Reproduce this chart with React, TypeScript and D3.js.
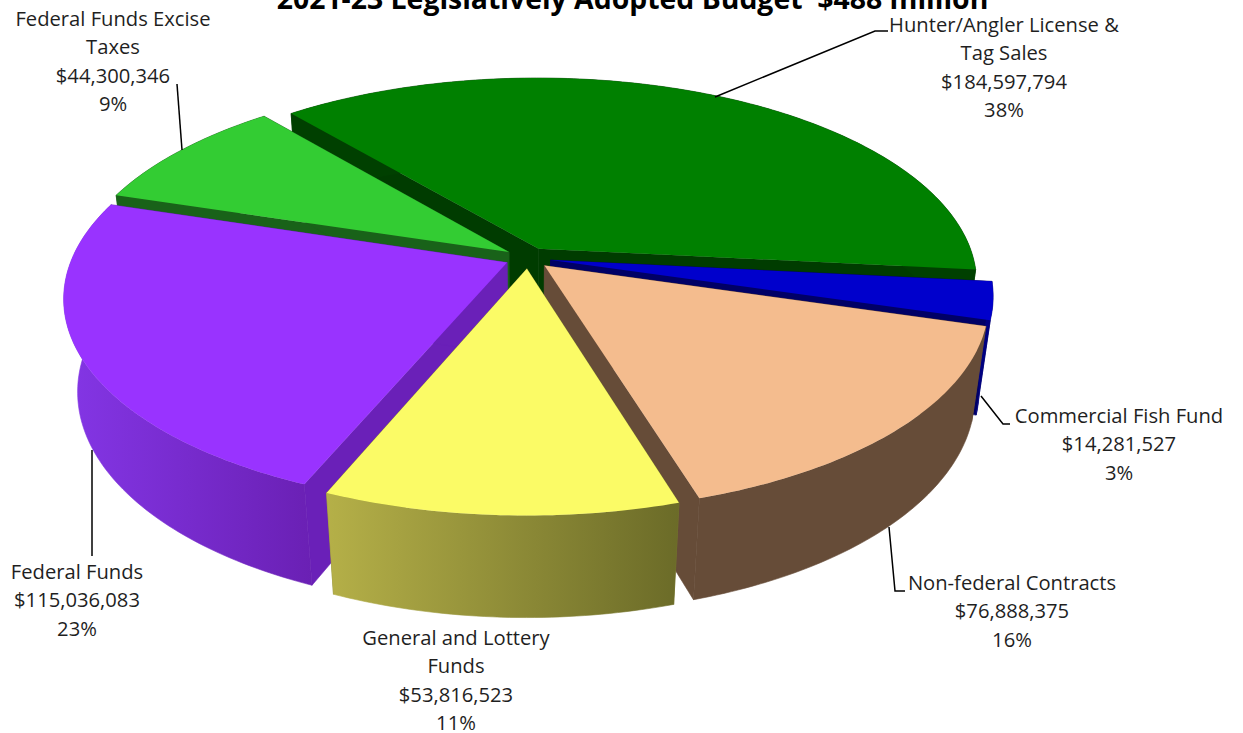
import React from "react";
import * as d3 from "d3";

const WIDTH = 1243;
const HEIGHT = 733;

// values, clockwise from the back
const categories = [
  "Hunter/Angler License & Tag Sales",
  "Commercial Fish Fund",
  "Non-federal Contracts",
  "General and Lottery Funds",
  "Federal Funds",
  "Federal Funds Excise Taxes",
];
const values = [184597794, 14281527, 76888375, 53816523, 115036083, 44300346];
const percents = ["38%", "3%", "16%", "11%", "23%", "9%"];
const labelLines = [
  ["Hunter/Angler License &", "Tag Sales"],
  ["Commercial Fish Fund"],
  ["Non-federal Contracts"],
  ["General and Lottery", "Funds"],
  ["Federal Funds"],
  ["Federal Funds Excise", "Taxes"],
];
const title = "2021-23 Legislatively Adopted Budget  $488 million";

const topColors = ["#008000", "#0000cc", "#f4bc8e", "#fbfb66", "#9933ff", "#33cc33"];
const wallColors = ["#003c00", "#000066", "#664c38", "#7d7d33", "#6a20b8", "#196219"];
const sideLeft = ["#004000", "#000080", "#664c38", "#b5b048", "#8436e6", "#196219"];
const sideRight = ["#004000", "#000080", "#664c38", "#6b6b28", "#6a20b4", "#196219"];

const labelX = [1004, 1119, 1012, 456, 77, 113];
const labelY = [32, 423, 590, 645, 579, 26];
const leaders: [number, number][][] = [
  [[715, 97], [875, 31], [888, 31]],
  [[981, 396], [1003, 424], [1010, 424]],
  [[889, 527], [895, 591], [905, 591]],
  [],
  [[92, 450], [92, 556]],
  [[182, 150], [177, 84]],
];

// back-to-front painting order
const paintOrder = [0, 5, 1, 4, 2, 3];

// pie geometry
const CX = 528;
const CY = 258;
const R = 435;
const EXPLODE = 23;
const TILT = 0.464;
const DEPTH = 95;
const PERSP_Y = 0.166;
const PERSP_Z = 0.03;
const START = (-40 * Math.PI) / 180;

const pie = d3
  .pie<number>()
  .sort(null)
  .startAngle(START)
  .endAngle(START + 2 * Math.PI);
const slices = pie(values);

type Pt = [number, number];

function project(a: number, rad: number, mid: number, z: number): Pt {
  const X = rad * Math.sin(a) + EXPLODE * Math.sin(mid);
  const Y = -(rad * Math.cos(a) + EXPLODE * Math.cos(mid));
  const s = 1 / (1 - (PERSP_Y * Y) / R + PERSP_Z * z);
  return [CX + X * s, CY + (TILT * Y + DEPTH * z) * s];
}

const path = d3.line<Pt>();

function arcPoints(a0: number, a1: number, mid: number, z: number): Pt[] {
  const n = Math.max(4, Math.ceil(Math.abs(a1 - a0) * 60));
  return d3.range(n + 1).map((i) => project(a0 + ((a1 - a0) * i) / n, R, mid, z));
}

function Slice({i}: {i: number}) {
  const {startAngle: a0, endAngle: a1} = slices[i];
  const mid = (a0 + a1) / 2;
  const apexTop = project(0, 0, mid, 0);
  const apexBot = project(0, 0, mid, 1);
  const arcTop = arcPoints(a0, a1, mid, 0);
  const arcBot = arcPoints(a0, a1, mid, 1);

  const wall = (a: number) =>
    path([apexTop, project(a, R, mid, 0), project(a, R, mid, 1), apexBot]) + "Z";
  const side = path([...arcTop, ...arcBot.slice().reverse()]) + "Z";
  const top = path([apexTop, ...arcTop]) + "Z";
  const [x0, x1] = d3.extent(arcTop.concat(arcBot), (d) => d[0]) as [number, number];

  return (
    <g>
      <defs>
        <linearGradient id={`side-${i}`} gradientUnits="userSpaceOnUse" x1={x0} x2={x1} y1={0} y2={0}>
          <stop offset="0" stopColor={sideLeft[i]} />
          <stop offset="1" stopColor={sideRight[i]} />
        </linearGradient>
      </defs>
      <path d={wall(a0)} fill={wallColors[i]} stroke={wallColors[i]} strokeWidth={0.6} />
      <path d={wall(a1)} fill={wallColors[i]} stroke={wallColors[i]} strokeWidth={0.6} />
      <path d={side} fill={`url(#side-${i})`} stroke={`url(#side-${i})`} strokeWidth={0.6} />
      <path d={top} fill={topColors[i]} />
    </g>
  );
}

function Label({i}: {i: number}) {
  const lines = [...labelLines[i], "$" + d3.format(",")(values[i]), percents[i]];
  return (
    <text
      aria-label={categories[i]}
      x={labelX[i]}
      textAnchor="middle"
      fontFamily="'Open Sans', sans-serif"
      fontSize={20.2}
      fill="#1f1f1f"
    >
      {lines.map((t, j) => (
        <tspan key={j} x={labelX[i]} y={labelY[i] + j * 28.4}>
          {t}
        </tspan>
      ))}
    </text>
  );
}

export default function App() {
  return (
    <svg
      width={WIDTH}
      height={HEIGHT}
      viewBox={`0 0 ${WIDTH} ${HEIGHT}`}
      style={{position: "absolute", left: 0, top: 0, display: "block", background: "#fff"}}
    >
      {paintOrder.map((i) => (
        <Slice key={i} i={i} />
      ))}
      {leaders.map((pts, i) =>
        pts.length ? (
          <path key={i} d={path(pts) as string} fill="none" stroke="#000" strokeWidth={1.5} />
        ) : null
      )}
      {categories.map((_, i) => (
        <Label key={i} i={i} />
      ))}
      <text
        x={632.5}
        y={9}
        textAnchor="middle"
        xmlSpace="preserve"
        style={{whiteSpace: "pre"}}
        fontFamily="'Open Sans', sans-serif"
        fontWeight="bold"
        fontSize={28.4}
        fill="#000"
      >
        {title}
      </text>
    </svg>
  );
}
